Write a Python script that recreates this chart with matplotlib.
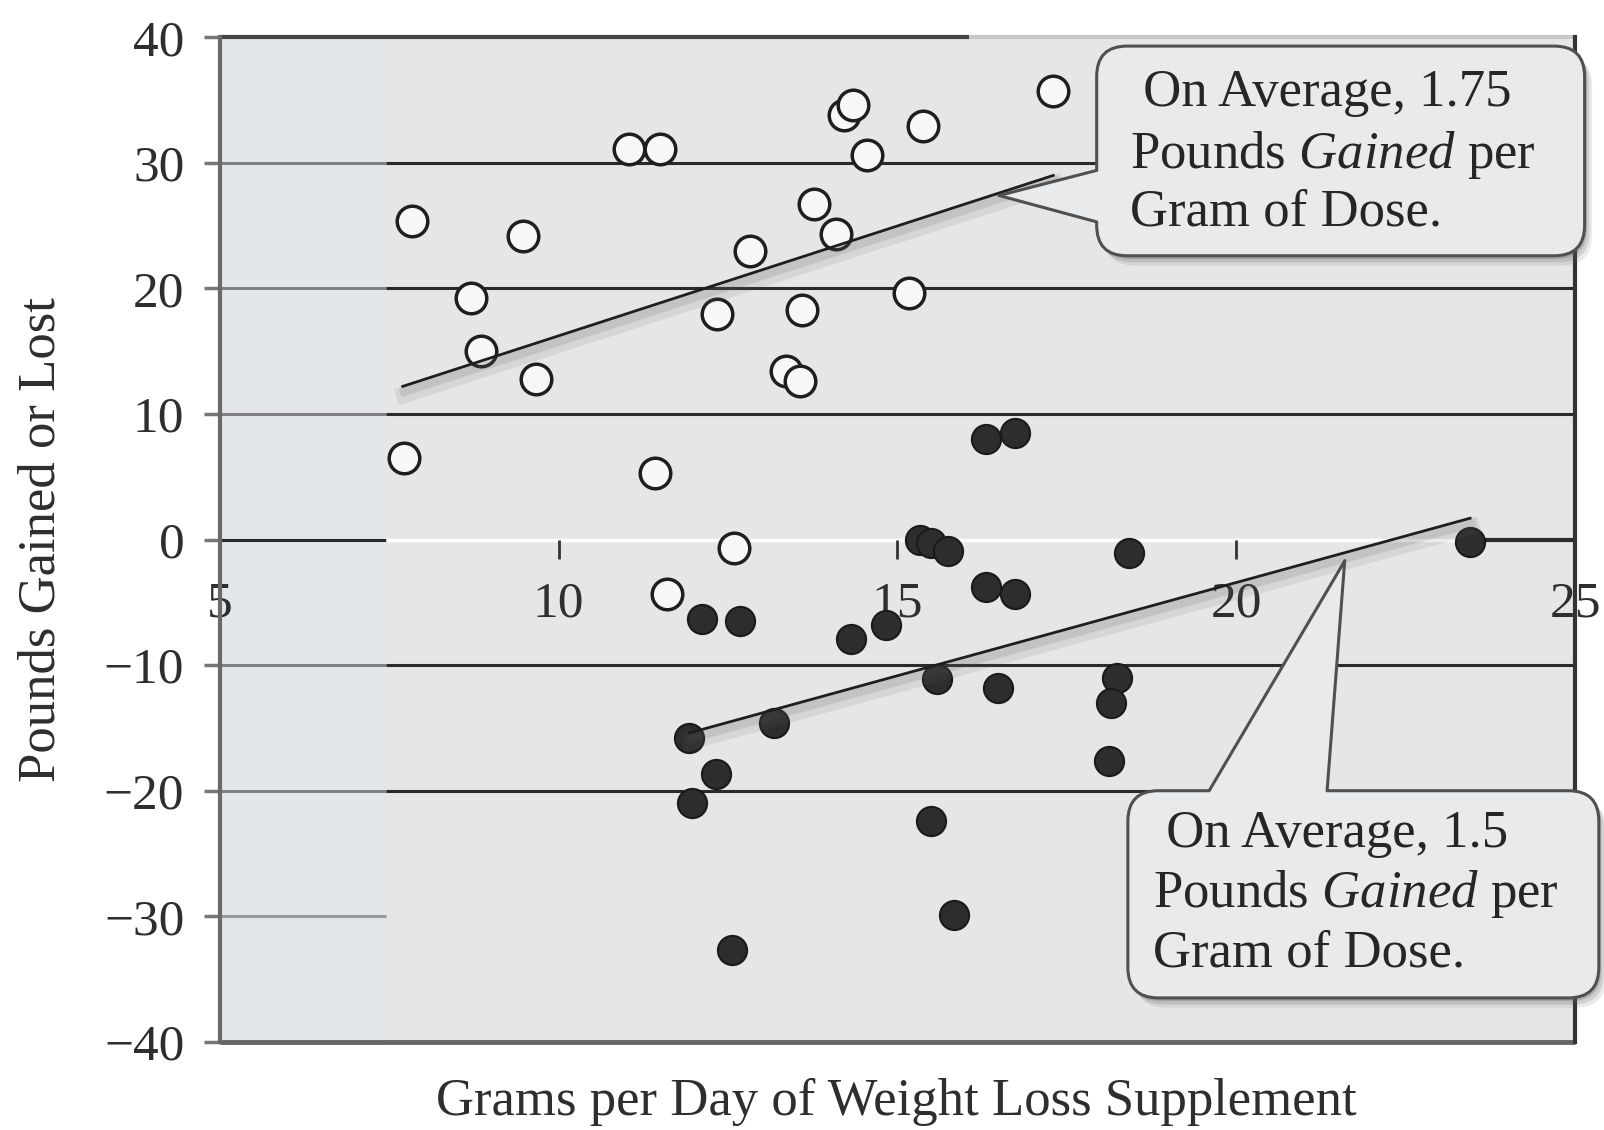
import numpy as np
import matplotlib

matplotlib.use("Agg")

import matplotlib.pyplot as plt
import matplotlib.patheffects as pe
from matplotlib.patches import FancyBboxPatch, Polygon

plt.rcParams["font.family"] = ["Liberation Serif", "DejaVu Serif"]
plt.rcParams["mathtext.fontset"] = "custom"
plt.rcParams["mathtext.rm"] = "Liberation Serif"
plt.rcParams["mathtext.it"] = "Liberation Serif:italic"

# open circles: people who gained weight
gain_x = [7.84, 8.71, 8.86, 9.47, 9.66, 7.72, 11.04, 11.50, 11.42, 11.60,
          12.34, 12.83, 12.59, 13.35, 13.56, 13.59, 13.77, 14.10, 14.21,
          14.34, 14.55, 15.17, 15.38, 17.30]
gain_y = [25.4, 19.2, 15.0, 24.2, 12.8, 6.5, 31.1, 31.1, 5.3, -4.3,
          18.0, 23.0, -0.7, 13.4, 12.6, 18.3, 26.7, 24.3, 33.8,
          34.6, 30.6, 19.6, 32.9, 35.7]

# filled circles: people who lost weight
loss_x = [11.93, 11.97, 12.32, 12.12, 12.67, 12.56, 13.18, 14.31, 14.83,
          15.34, 15.50, 15.75, 15.58, 15.49, 15.84, 16.31, 16.73, 16.31,
          16.73, 16.49, 18.42, 18.24, 18.15, 18.12, 23.45]
loss_y = [-15.8, -21.0, -18.7, -6.3, -6.5, -32.7, -14.6, -7.9, -6.8,
          0.0, -0.3, -0.9, -11.1, -22.4, -29.9, 8.0, 8.5, -3.8,
          -4.3, -11.8, -1.1, -11.0, -13.0, -17.6, -0.2]

# fitted lines (end points)
gain_fit_x = [7.70, 17.30]
gain_fit_y = [12.2, 29.0]
loss_fit_x = [11.93, 23.45]
loss_fit_y = [-15.4, 1.7]

x_ticks = [5, 10, 15, 20, 25]
y_ticks = [40, 30, 20, 10, 0, -10, -20, -30, -40]

gain_text = [" On Average, 1.75", r"Pounds $\mathit{Gained}$ per", "Gram of Dose."]
loss_text = [" On Average, 1.5", r"Pounds $\mathit{Gained}$ per", "Gram of Dose."]

BG = "#e6e6e6"
STRIP = "#e4e7ea"
DARK = "#2a2a2a"
BOX_FC = "#e9eaec"
BOX_EC = "#505050"

fig = plt.figure(figsize=(16.04, 11.30), dpi=100)
ax = fig.add_axes([0.137, 0.078, 0.845, 0.889])
ax.set_xlim(5, 25)
ax.set_ylim(-40, 40)
ax.set_facecolor(BG)
ax.axvspan(5, 7.45, color=STRIP, zorder=0, lw=0)

px_x = 0.845 * 1604 / 20
px_y = 0.889 * 1130 / 80
aspect = px_x / px_y

# grid lines
for y in [30, 20, 10, -10, -20]:
    ax.hlines(y, 5, 7.45, color="#808080", lw=2.2, zorder=1)
    ax.hlines(y, 7.45, 25, color=DARK, lw=2.2, zorder=1)
ax.hlines(-30, 5, 7.45, color="#9a9a9a", lw=2.2, zorder=1)
ax.hlines(0, 5, 7.45, color=DARK, lw=2.2, zorder=1)
ax.hlines(0, 7.45, 23.55, color="white", lw=2.5, zorder=1)
ax.hlines(0, 23.55, 25, color=DARK, lw=3, zorder=1)

# frame
for side in ["top", "bottom"]:
    ax.spines[side].set_visible(False)
ax.spines["left"].set_color("#6a6a6a")
ax.spines["left"].set_linewidth(3)
ax.spines["right"].set_color("#333333")
ax.spines["right"].set_linewidth(3)
ax.hlines(40, 5, 16.05, color="#444444", lw=3, zorder=2, clip_on=False)
ax.hlines(40, 16.05, 25, color="#c8c8c8", lw=3, zorder=2, clip_on=False)
ax.hlines(-40, 5, 25, color="#666666", lw=3.5, zorder=2, clip_on=False)

ax.xaxis.set_ticks_position("bottom")
ax.spines["bottom"].set_position(("data", 0))
ax.set_xticks(x_ticks)
ax.set_xticklabels([str(t) for t in x_ticks])
ax.set_yticks(y_ticks)
ax.tick_params(axis="x", direction="out", length=14, width=2, color="#333333",
               pad=16, labelsize=37, labelcolor="#2e2e2e")
ax.tick_params(axis="y", direction="out", length=11.5, width=2.5, color="#777777",
               pad=14, labelsize=37, labelcolor="#2e2e2e")

ax.plot(gain_x, gain_y, "o", ms=22, mfc="#f7f7f7", mec="#1e1e1e", mew=2.5,
        zorder=4, clip_on=False)
ax.plot(loss_x, loss_y, "o", ms=21, mfc="#2d2d2d", mec="#1a1a1a", mew=1.5,
        zorder=4, clip_on=False)

# soft shadow under the fitted lines
shadow = [
    pe.SimpleLineShadow(offset=(1, -6), shadow_color="0.4", alpha=0.12, linewidth=12),
    pe.SimpleLineShadow(offset=(1, -4), shadow_color="0.35", alpha=0.15, linewidth=6),
    pe.Normal(),
]
ax.plot(gain_fit_x, gain_fit_y, color="#1e1e1e", lw=2, zorder=5,
        path_effects=shadow)
ax.plot(loss_fit_x, loss_fit_y, color="#1e1e1e", lw=2, zorder=5,
        path_effects=shadow)


def callout(x0, x1, y0, y1, poly, edges, lines, starts, baselines):
    r = 0.45
    style = f"round,pad=0,rounding_size={r}"
    for k, a in enumerate([0.12, 0.18, 0.25]):
        off = (3 - k) * 2.5
        sh = FancyBboxPatch((x0 + off / px_x, y0 - off * 1.3 / px_y), x1 - x0,
                            y1 - y0, boxstyle=style, mutation_aspect=aspect,
                            fc="#5a5a5a", ec="none", alpha=a, zorder=6,
                            clip_on=False)
        ax.add_patch(sh)
    box = FancyBboxPatch((x0, y0), x1 - x0, y1 - y0, boxstyle=style,
                         mutation_aspect=aspect, fc=BOX_FC, ec=BOX_EC, lw=2.2,
                         zorder=7, clip_on=False)
    ax.add_patch(box)
    ax.add_patch(Polygon(poly, closed=True, fc=BOX_FC, ec="none", zorder=7.5,
                         clip_on=False))
    for (a, b) in edges:
        ax.plot([a[0], b[0]], [a[1], b[1]], color=BOX_EC, lw=2.2, zorder=7.6,
                clip_on=False, solid_capstyle="round")
    for s, xs, yb in zip(lines, starts, baselines):
        ax.text(xs, yb, s, fontsize=38, ha="left", va="baseline",
                color="#262626", zorder=8, clip_on=False)


tip = (16.5, 27.4)
callout(17.94, 25.14, 22.6, 39.3,
        [(18.15, 29.4), (17.94, 29.4), tip, (17.94, 25.3), (18.15, 25.3)],
        [((17.94, 29.4), tip), (tip, (17.94, 25.3))],
        gain_text, [18.43, 18.43, 18.43], [34.5, 29.6, 25.0])

tip = (21.6, -1.7)
callout(18.4, 25.35, -36.5, -20.0,
        [(19.6, -20.6), (19.6, -20.0), tip, (21.34, -20.0), (21.34, -20.6)],
        [((19.6, -20.0), tip), (tip, (21.34, -20.0))],
        loss_text, [18.77, 18.77, 18.77], [-24.5, -29.3, -34.0])

fig.text(0.026, 0.5225, "Pounds Gained or Lost", rotation=90, ha="center",
         va="center", fontsize=38, color="#2e2e2e")
fig.text(0.559, 0.025, "Grams per Day of Weight Loss Supplement", ha="center",
         va="center", fontsize=38, color="#2e2e2e")

fig.savefig("out.png", dpi=100)
